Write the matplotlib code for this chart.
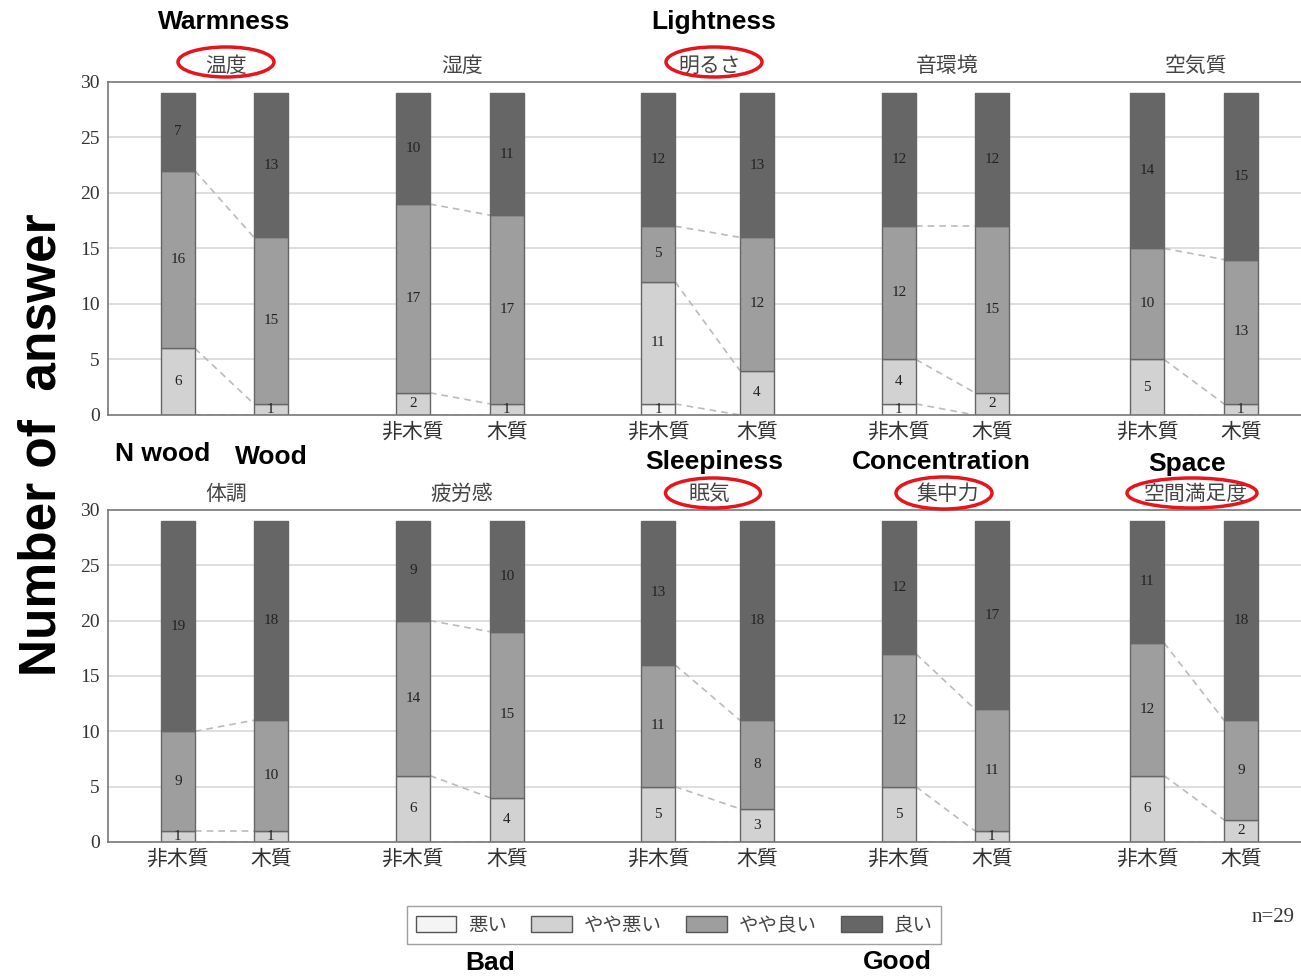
import matplotlib
matplotlib.use('Agg')
import matplotlib.pyplot as plt
from matplotlib.patches import Ellipse, Patch
import numpy as np

plt.rcParams['font.family'] = ['Liberation Serif', 'Noto Sans CJK JP', 'DejaVu Sans']

categories = ['悪い', 'やや悪い', 'やや良い', '良い']
bar_names = ['非木質', '木質']

top_titles = ['温度', '湿度', '明るさ', '音環境', '空気質']
top_nonwood = [[0, 6, 16, 7], [0, 2, 17, 10], [1, 11, 5, 12], [1, 4, 12, 12], [0, 5, 10, 14]]
top_wood = [[0, 1, 15, 13], [0, 1, 17, 11], [0, 4, 12, 13], [0, 2, 15, 12], [0, 1, 13, 15]]

bottom_titles = ['体調', '疲労感', '眠気', '集中力', '空間満足度']
bottom_nonwood = [[0, 1, 9, 19], [0, 6, 14, 9], [0, 5, 11, 13], [0, 5, 12, 12], [0, 6, 12, 11]]
bottom_wood = [[0, 1, 10, 18], [0, 4, 15, 10], [0, 3, 8, 18], [0, 1, 11, 17], [0, 2, 9, 18]]

colors = ['#f4f4f4', '#d2d2d2', '#9e9e9e', '#666666']
group_pos = [0, 0.973, 1.996, 2.979, 4.006]
offsets = [0.192, 0.194, 0.204, 0.192, 0.194]
width = 0.14

fig = plt.figure(figsize=(13.01, 9.76), dpi=100)
ax_top = fig.add_axes([0.083, 0.5748, 0.917, 0.3413])
ax_bot = fig.add_axes([0.083, 0.1373, 0.917, 0.3402])


def draw_panel(ax, titles, nonwood, wood, skip_first_labels=False):
    ax.set_xlim(-0.481, 4.448)
    ax.set_ylim(0, 30)
    ax.set_yticks(range(0, 31, 5))
    ax.tick_params(axis='y', length=0, labelsize=14, labelcolor='#333333', pad=6)
    ax.tick_params(axis='x', length=0)
    ax.set_xticks([])
    for y in range(5, 30, 5):
        ax.axhline(y, color='#d8d8d8', lw=1.2, zorder=0)
    for s in ['left', 'top', 'bottom']:
        ax.spines[s].set_color('#777777')
        ax.spines[s].set_linewidth(1.2)
    ax.spines['right'].set_visible(False)

    for g in range(5):
        pair = [nonwood[g], wood[g]]
        xs = [group_pos[g] - offsets[g], group_pos[g] + offsets[g]]
        for b in range(2):
            bottom = 0
            for k, v in enumerate(pair[b]):
                if v > 0:
                    ax.bar(xs[b], v, width, bottom=bottom, color=colors[k],
                           edgecolor='#666666', lw=1, zorder=2)
                    ax.text(xs[b], bottom + v / 2, str(v), ha='center', va='center',
                            fontsize=11, color='#222222', zorder=3)
                bottom += v
            if not (skip_first_labels and g == 0):
                ax.text(xs[b], -0.5, bar_names[b], ha='center', va='top',
                        fontsize=15, color='#333333', family=['Noto Sans CJK JP'])
        # dashed connectors between segment boundaries
        c_left = np.cumsum(pair[0])[:-1]
        c_right = np.cumsum(pair[1])[:-1]
        for yl, yr in zip(c_left, c_right):
            ax.plot([xs[0] + width / 2, xs[1] - width / 2], [yl, yr],
                    ls=(0, (4, 3)), color='#bbbbbb', lw=1.2, zorder=1)
        ax.text(group_pos[g] + 0.008, 31.45, titles[g], ha='center', va='center',
                fontsize=15, color='#444444', family=['Noto Sans CJK JP'])


draw_panel(ax_top, top_titles, top_nonwood, top_wood, skip_first_labels=True)
draw_panel(ax_bot, bottom_titles, bottom_nonwood, bottom_wood)

# red ellipses around highlighted items (figure pixel coords)
W, H = 1301, 976
for cx, cy, w, h in [(226, 62, 96, 30), (714, 62, 96, 30), (713, 493, 95, 30),
                     (944, 493, 96, 32), (1192, 493, 130, 30)]:
    e = Ellipse((cx / W, 1 - cy / H), w / W, h / H, transform=fig.transFigure,
                fill=False, edgecolor='#e8141c', lw=2.5)
    fig.add_artist(e)

bold = dict(family=['Liberation Sans'], fontweight='bold', color='black')
for txt, x, y in [('Warmness', 224, 22), ('Lightness', 714, 22), ('Sleepiness', 714, 462),
                  ('Concentration', 941, 462), ('Space', 1187, 464),
                  ('N wood', 163, 454), ('Wood', 271, 457)]:
    fig.text(x / W, 1 - y / H, txt, ha='center', va='center', fontsize=19, **bold)
fig.text(42 / W, 1 - 445 / H, 'Number of  answer', rotation=90, ha='center', va='center',
         fontsize=37, **bold)
fig.text(490 / W, 1 - 963 / H, 'Bad', ha='center', va='center', fontsize=19, **bold)
fig.text(897 / W, 1 - 962 / H, 'Good', ha='center', va='center', fontsize=19, **bold)

handles = [Patch(facecolor=c, edgecolor='#555555') for c in colors]
leg = fig.legend(handles, categories, ncol=4, loc='center', bbox_to_anchor=(674 / W, 1 - 925 / H),
                 frameon=True, fancybox=False, edgecolor='#888888',
                 prop={'family': ['Noto Sans CJK JP'], 'size': 14},
                 handlelength=2.1, handleheight=0.9, columnspacing=1.25, handletextpad=0.6,
                 borderpad=0.45)
for t in leg.get_texts():
    t.set_color('#444444')
fig.text(1252 / W, 1 - 917 / H, 'n=29', ha='left', va='center', fontsize=15, color='#333333')

fig.savefig('out.png', dpi=100)
